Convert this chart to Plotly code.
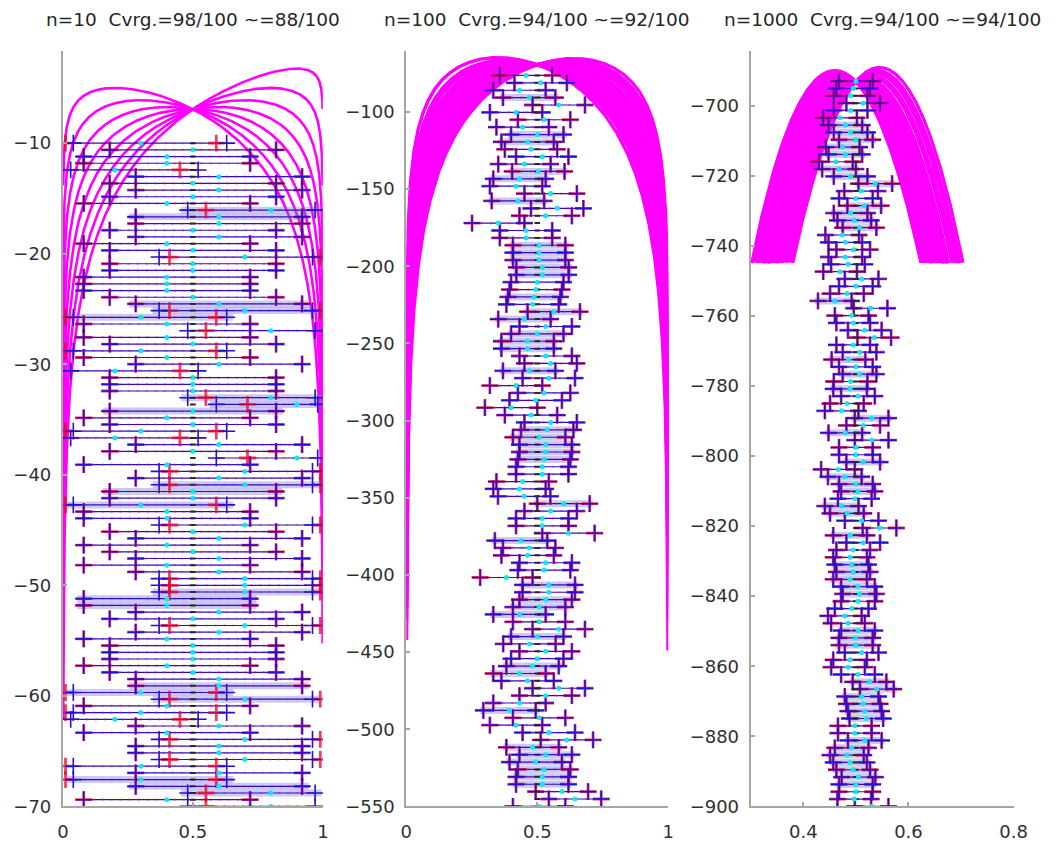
import numpy as np
import plotly.graph_objects as go

# ---------------- data ----------------
N_TRIALS = [10, 100, 1000]
TITLES = ["n=10\u00a0\u00a0Cvrg.=98/100 ~=88/100",
          "n=100\u00a0\u00a0Cvrg.=94/100 ~=92/100",
          "n=1000\u00a0\u00a0Cvrg.=94/100 ~=94/100"]

# panel 1 (n=10): successes k of each of the 100 experiments, top row first
K10 = [3, 5, 4, 4, 2, 6, 5, 6, 5, 4, 8, 6, 6, 5, 6, 4, 5, 7, 5, 5,
       4, 4, 4, 5, 6, 7, 3, 4, 8, 4, 5, 3, 4, 6, 2, 5, 5, 5, 8, 9,
       5, 4, 5, 3, 2, 6, 5, 9, 4, 7, 6, 7, 5, 5, 3, 4, 4, 7, 5, 6,
       4, 5,
       6, 4, 6, 7, 7, 7, 4, 4, 6, 5, 7, 6, 4, 5, 5, 5, 4, 5, 6, 6,
       3, 7, 4, 3, 2, 6, 4, 7, 6, 6, 7, 3, 6, 3, 6, 8, 4, 8]
LAV10 = [10, 11, 24, 25, 26, 38, 39, 40, 51, 52, 54, 67, 68, 69, 81, 82, 83, 95, 96, 97]
# interval endpoints per k (index = k)
RED_LO10 = [None, -0.09, -0.05, 0.01, 0.08, 0.18, 0.28, 0.41, 0.55, 0.71, None]
RED_HI10 = [None, 0.29, 0.45, 0.59, 0.72, 0.82, 0.92, 0.99, 1.05, 1.09, None]
BLUE_LO10 = [None, 0.02, 0.03, 0.04, 0.08, 0.18, 0.28, 0.37, 0.48, 0.59, None]
BLUE_HI10 = [None, 0.41, 0.52, 0.63, 0.72, 0.82, 0.92, 0.96, 0.97, 0.98, None]

# panel 2 (n=100): estimated proportion per row
P100 = [0.457, 0.513, 0.432, 0.469, 0.582, 0.419, 0.526, 0.444, 0.50, 0.463,
        0.476, 0.519, 0.451, 0.504, 0.432, 0.419, 0.551, 0.426, 0.576, 0.532,
        0.351, 0.457, 0.457, 0.507, 0.507, 0.507, 0.52, 0.52,
        0.50, 0.494, 0.488, 0.482, 0.563, 0.451, 0.532, 0.50, 0.463, 0.463,
        0.532, 0.551, 0.469, 0.544, 0.419, 0.526, 0.494, 0.40, 0.476, 0.551,
        0.538, 0.507, 0.532, 0.532, 0.526, 0.519, 0.519, 0.444, 0.432, 0.45,
        0.60, 0.551, 0.519, 0.519, 0.619, 0.438, 0.469,
        0.463, 0.532, 0.526, 0.382, 0.544, 0.544, 0.532, 0.507, 0.432, 0.507,
        0.582, 0.50, 0.47, 0.532, 0.50, 0.482, 0.432, 0.463, 0.582, 0.532,
        0.432, 0.394, 0.507, 0.419, 0.544, 0.613, 0.482,
        0.532, 0.494, 0.526, 0.519, 0.519, 0.594, 0.644, 0.507]
LAV100 = [3, 8, 9, 13, 14, 17, 23, 24, 25, 26, 27, 30, 32, 33, 35, 36, 37, 40,
          48, 49, 50, 51, 52, 58, 63, 69, 71, 72, 73, 76, 80, 81, 86, 91, 92,
          93, 94, 95, 96]
HW100 = 0.10

# panel 3 (n=1000)
P1000 = [0.50, 0.495, 0.49, 0.514, 0.49, 0.47, 0.48, 0.49, 0.50, 0.475,
         0.48, 0.462, 0.468, 0.49, 0.537, 0.51, 0.50, 0.516, 0.49, 0.497,
         0.507, 0.474, 0.48, 0.495, 0.48, 0.485, 0.47,
         0.511, 0.50, 0.483, 0.46, 0.528, 0.492, 0.495, 0.517, 0.535, 0.495,
         0.507, 0.486, 0.50, 0.507, 0.49, 0.489, 0.504, 0.483, 0.473, 0.53,
         0.514, 0.48, 0.53, 0.50, 0.50, 0.514, 0.466, 0.479, 0.50, 0.504,
         0.498, 0.473, 0.483, 0.511, 0.545, 0.489, 0.514, 0.495,
         0.489, 0.492, 0.495, 0.489, 0.504, 0.507, 0.504, 0.492, 0.479, 0.485,
         0.504, 0.50, 0.50, 0.511, 0.489, 0.485, 0.504, 0.526, 0.54, 0.511,
         0.514, 0.517, 0.52, 0.498, 0.498, 0.517, 0.492, 0.483, 0.489, 0.495,
         0.505, 0.50, 0.50, 0.497, 0.53]
LAV1000 = [6, 7, 8, 9, 10, 12, 13, 14, 17, 18, 19, 20, 30, 38, 40, 42, 46, 48,
           52, 54, 55, 56, 58, 59, 62, 66, 67, 68, 69, 70, 75, 76, 77, 82, 83,
           84, 85, 86, 87, 90, 91, 92, 93, 94, 95, 96]
HW1000 = 0.032

ROW_SPAN = [(-10.0, -70.0), (-76.3, -550.0), (-693.0, -900.0)]
CURVE_FLOOR = [None, None, -745.0]
X_RANGE = [[0, 1], [0, 1], [0.3, 0.8]]
Y_RANGE = [[-70, -1.7], [-550, -60.7], [-900, -684.5]]
X_TICKS = [[0, 0.5, 1], [0, 0.5, 1], [0.4, 0.6, 0.8]]
X_TICKTEXT = [["0", "0.5", "1"], ["0", "0.5", "1"], ["0.4", "0.6", "0.8"]]
Y_TICKS = [list(range(-70, -9, 10)), list(range(-550, -99, 50)), list(range(-900, -699, 20))]

TRUE_P = 0.5

# ---------------- build the figure ----------------
fig = go.Figure()
X_DOM = [[58 / 1060, 323 / 1060], [408 / 1060, 675 / 1060], [759 / 1060, 1027 / 1060]]
Y_DOM = [32 / 848, 796 / 848]

MAGENTA = "#ff00ff"
BLUE = "#2a0cd0"
RED = "rgba(235,0,40,0.75)"
CYAN = "#14e6f0"
LAV = "rgba(115,115,230,0.38)"
CURVE_W = [2.6, 3.4, 3.2]


def segments(lo, hi, ys):
    xs, yy = [], []
    for a, b, y in zip(lo, hi, ys):
        xs += [a, b, None]
        yy += [y, y, None]
    return xs, yy


def panel_rows(idx):
    if idx == 0:
        ks = K10
        n = N_TRIALS[0]
        phat = [k / n for k in ks]
        rlo = [RED_LO10[k] for k in ks]
        rhi = [RED_HI10[k] for k in ks]
        blo = [BLUE_LO10[k] for k in ks]
        bhi = [BLUE_HI10[k] for k in ks]
        lav = LAV10
        pad = 0.025
    elif idx == 1:
        phat = P100
        rlo = [p - HW100 for p in phat]
        rhi = [p + HW100 for p in phat]
        blo, bhi = rlo, rhi
        lav = LAV100
        pad = 0.012
    else:
        phat = P1000
        rlo = [p - HW1000 for p in phat]
        rhi = [p + HW1000 for p in phat]
        blo, bhi = rlo, rhi
        lav = LAV1000
        pad = 0.006
    return phat, rlo, rhi, blo, bhi, lav, pad


for i in range(3):
    xa = "x" if i == 0 else f"x{i + 1}"
    ya = "y" if i == 0 else f"y{i + 1}"
    n = N_TRIALS[i]
    phat, rlo, rhi, blo, bhi, lav, pad = panel_rows(i)
    rows_y = np.linspace(ROW_SPAN[i][0], ROW_SPAN[i][1], len(phat))

    # log-likelihood curves for each observed count
    p = np.linspace(0.001, 0.999, 1997)
    ks = sorted(set(int(round(v * n)) for v in phat))
    cx, cy = [], []
    for k in ks:
        ll = k * np.log(p) + (n - k) * np.log(1 - p)
        if CURVE_FLOOR[i] is not None:
            keep = ll >= CURVE_FLOOR[i]
            ll = np.where(keep, ll, np.nan)
        cx += list(p) + [None]
        cy += [None if np.isnan(v) else float(v) for v in ll] + [None]
    fig.add_trace(go.Scatter(x=cx, y=cy, mode="lines", xaxis=xa, yaxis=ya,
                             line=dict(color=MAGENTA, width=CURVE_W[i]),
                             connectgaps=False, hoverinfo="skip", showlegend=False))

    # lavender bands
    llo = [max(blo[j] - pad, X_RANGE[i][0]) for j in lav]
    lhi = [min(bhi[j] + pad, X_RANGE[i][1]) for j in lav]
    lx, ly = segments(llo, lhi, [rows_y[j] for j in lav])
    fig.add_trace(go.Scatter(x=lx, y=ly, mode="lines", xaxis=xa, yaxis=ya,
                             line=dict(color=LAV, width=7), hoverinfo="skip", showlegend=False))

    # blue interval lines
    bx, by = segments(blo, bhi, rows_y)
    fig.add_trace(go.Scatter(x=bx, y=by, mode="lines", xaxis=xa, yaxis=ya,
                             line=dict(color=BLUE, width=1.2), hoverinfo="skip", showlegend=False))
    # red dotted interval
    rx, ry = segments(rlo, rhi, rows_y)
    fig.add_trace(go.Scatter(x=rx, y=ry, mode="lines", xaxis=xa, yaxis=ya,
                             line=dict(color="rgba(210,30,80,0.5)", width=2.2, dash="2px,7px"),
                             hoverinfo="skip", showlegend=False))

    msize = 12
    # red + at approximate interval ends
    fig.add_trace(go.Scatter(x=list(rlo) + list(rhi), y=list(rows_y) + list(rows_y),
                             mode="markers", xaxis=xa, yaxis=ya,
                             marker=dict(symbol="cross-thin", size=msize,
                                         line=dict(color=RED, width=2.8)),
                             hoverinfo="skip", showlegend=False))
    # blue + at interval ends
    fig.add_trace(go.Scatter(x=list(blo) + list(bhi), y=list(rows_y) + list(rows_y),
                             mode="markers", xaxis=xa, yaxis=ya,
                             marker=dict(symbol="cross-thin", size=msize,
                                         line=dict(color=BLUE, width=1.6)),
                             hoverinfo="skip", showlegend=False))
    # true value marks
    fig.add_trace(go.Scatter(x=[TRUE_P] * len(rows_y), y=list(rows_y),
                             mode="markers", xaxis=xa, yaxis=ya,
                             marker=dict(symbol="line-ew", size=4,
                                         line=dict(color="#2a2a2a", width=2)),
                             hoverinfo="skip", showlegend=False))
    # estimates
    fig.add_trace(go.Scatter(x=list(phat), y=list(rows_y),
                             mode="markers", xaxis=xa, yaxis=ya,
                             marker=dict(symbol="circle", size=5, color=CYAN),
                             hoverinfo="skip", showlegend=False))

axis_common = dict(showgrid=False, zeroline=False, showline=True, linecolor="#a6a6a6",
                   linewidth=2, ticks="inside", ticklen=4, tickwidth=1.5, tickcolor="#a6a6a6",
                   tickfont=dict(family="DejaVu Sans", size=18, color="#303030"),
                   mirror=False)
layout = dict(width=1060, height=848, margin=dict(l=0, r=0, t=0, b=0),
              paper_bgcolor="white", plot_bgcolor="white", showlegend=False)
for i in range(3):
    xk = "xaxis" if i == 0 else f"xaxis{i + 1}"
    yk = "yaxis" if i == 0 else f"yaxis{i + 1}"
    layout[xk] = dict(axis_common, domain=X_DOM[i], range=X_RANGE[i], tickvals=X_TICKS[i],
                      ticktext=X_TICKTEXT[i], anchor="y" if i == 0 else f"y{i + 1}",
                      ticklabelstandoff=8)
    layout[yk] = dict(axis_common, domain=Y_DOM, range=Y_RANGE[i], tickvals=Y_TICKS[i],
                      anchor="x" if i == 0 else f"x{i + 1}", ticklabelstandoff=6)
fig.update_layout(**layout)

for i in range(3):
    fig.add_annotation(text=TITLES[i], xref="paper", yref="paper",
                       x=(X_DOM[i][0] + X_DOM[i][1]) / 2, y=1 - 20 / 848,
                       xanchor="center", yanchor="middle", showarrow=False,
                       font=dict(family="DejaVu Sans", size=18.5, color="#252525"))

fig.write_html("out.html")
